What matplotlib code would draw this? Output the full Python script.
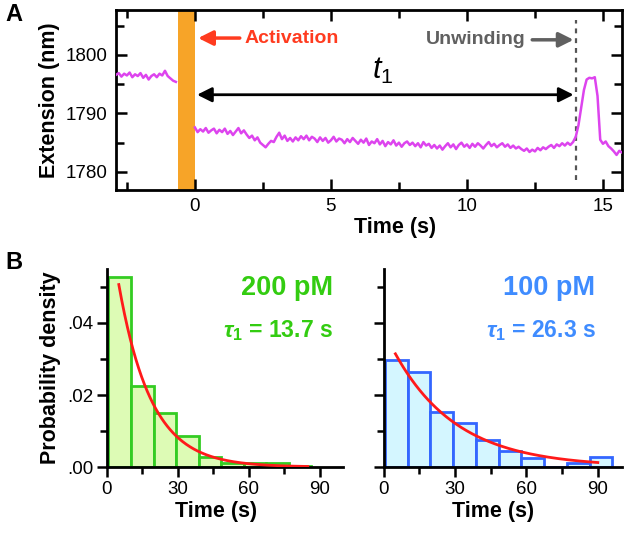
import numpy as np
import matplotlib
matplotlib.use("Agg")
import matplotlib.pyplot as plt
from matplotlib.ticker import MultipleLocator, FixedLocator

plt.rcParams['font.family'] = ['Liberation Sans', 'DejaVu Sans']
plt.rcParams['mathtext.fontset'] = 'custom'
plt.rcParams['mathtext.rm'] = 'Liberation Sans'
plt.rcParams['mathtext.it'] = 'Liberation Sans:italic'
plt.rcParams['mathtext.bf'] = 'Liberation Sans:bold'
plt.rcParams['mathtext.bfit'] = 'Liberation Sans:italic:bold'

# --- panel A: extension trace (sampled every 0.1 s) ---
pre_t0 = -2.9
pre_ext = [1796.6, 1796.9, 1796.3, 1796.8, 1796.5, 1797.0, 1796.2, 1796.7, 1796.4, 1796.9,
           1796.1, 1796.6, 1795.8, 1796.4, 1796.7, 1796.2, 1796.8, 1796.5, 1797.3, 1796.4,
           1796.0, 1795.6, 1795.4]
post_t0 = 0.0
post_ext = [1787.6, 1786.8, 1787.3, 1786.9, 1787.5, 1786.7, 1787.1, 1787.4, 1786.6, 1787.2,
            1786.8, 1787.4, 1786.5, 1787.0, 1786.3, 1786.9, 1787.5, 1786.6, 1787.1, 1786.4,
            1785.8, 1786.2, 1785.4, 1785.9, 1785.0, 1784.6, 1784.2, 1784.8, 1785.3, 1785.1,
            1786.0, 1786.7, 1785.6, 1786.2, 1785.3, 1785.8, 1785.2, 1785.9, 1785.4, 1786.1,
            1785.6, 1786.2, 1785.4, 1786.0, 1785.7, 1785.1, 1785.9, 1785.3, 1785.8, 1785.0,
            1785.4, 1786.0, 1785.2, 1785.7, 1785.5, 1784.9, 1785.6, 1785.1, 1785.8, 1785.3,
            1784.8, 1785.5, 1785.0, 1785.7, 1784.6, 1785.2, 1784.9, 1785.6, 1784.7, 1785.3,
            1784.4, 1785.1, 1784.7, 1785.4, 1784.5, 1785.0, 1784.3, 1784.9, 1785.2, 1784.6,
            1785.0, 1784.4, 1784.9, 1784.2, 1785.1, 1784.5, 1784.8, 1784.1, 1784.6, 1784.0,
            1784.5, 1783.8, 1784.4, 1784.9, 1784.2, 1784.7, 1783.9, 1784.6, 1785.0, 1784.3,
            1784.7, 1784.1, 1784.8, 1784.3, 1784.9, 1784.5, 1784.0, 1784.6, 1785.1, 1784.4,
            1784.8, 1784.2, 1784.6, 1784.9, 1784.3, 1784.7, 1784.1, 1784.5, 1784.0, 1784.3,
            1783.9, 1783.6, 1784.0, 1783.4, 1783.8, 1783.5, 1784.1, 1783.7, 1784.2, 1783.9,
            1784.3, 1784.6, 1784.1, 1784.7, 1784.4, 1784.9, 1784.5, 1785.0, 1784.6, 1785.1,
            1786.0, 1788.0, 1791.0, 1794.0, 1795.8, 1796.1, 1796.0, 1796.2, 1793.0, 1785.5,
            1784.8, 1785.2, 1784.4, 1784.0, 1783.5, 1782.9, 1783.6, 1783.3]
dt = 0.1
activation = (-0.62, 0.0)
unwinding_t = 14.0

# --- panel B: dwell-time histograms ---
bin_w = 9.55
bins_200 = [0.6, 10.15, 19.7, 29.25, 38.8, 48.35, 57.9, 67.45, 77.0]
dens_200 = [0.0528, 0.0226, 0.0150, 0.0087, 0.0028, 0.0011, 0.0011, 0.0011, 0.0003]
tau_200 = 13.7
bins_100 = [0.6, 10.15, 19.7, 29.25, 38.8, 48.35, 57.9, 67.45, 77.0, 86.55]
dens_100 = [0.0296, 0.0264, 0.0153, 0.0122, 0.0074, 0.0044, 0.0025, 0.0, 0.0011, 0.0027]
tau_100 = 26.3

fig = plt.figure(figsize=(6.25, 5.35), dpi=100)

# ---------------- A ----------------
axA = fig.add_axes([0.1856, 0.6449, 0.8096, 0.3364])
t_pre = pre_t0 + dt * np.arange(len(pre_ext))
t_post = post_t0 + dt * np.arange(len(post_ext))
axA.axvspan(activation[0], activation[1], color='#F7A428', lw=0, zorder=1)
axA.plot(t_pre, pre_ext, color='#DD44EE', lw=1.8, zorder=3)
axA.plot(t_post, post_ext, color='#DD44EE', lw=1.8, zorder=3)
axA.plot([unwinding_t, unwinding_t], [1778.6, 1806.0], color='#555555', lw=1.6,
         ls=(0, (2.2, 2.2)), zorder=2)
axA.set_xlim(-2.9, 15.7)
axA.set_ylim(1776.9, 1807.7)
axA.xaxis.set_major_locator(MultipleLocator(5))
axA.xaxis.set_minor_locator(MultipleLocator(2.5))
axA.yaxis.set_major_locator(MultipleLocator(10))
axA.yaxis.set_minor_locator(MultipleLocator(5))
axA.tick_params(which='both', direction='in', top=True, right=True, width=1.8,
                labelsize=13.5, pad=6)
axA.tick_params(which='major', length=8)
axA.tick_params(which='minor', length=6)
for s in axA.spines.values():
    s.set_linewidth(2)
axA.set_xlabel('Time (s)', fontsize=15.5, fontweight='bold', labelpad=1)
axA.xaxis.set_label_coords(0.551, -0.15)
axA.set_ylabel('Extension (nm)', fontsize=15.5, fontweight='bold', labelpad=4)

axA.annotate('', xy=(0.08, 1793.2), xytext=(13.92, 1793.2),
             arrowprops=dict(arrowstyle='<|-|>', color='black', lw=2, mutation_scale=22,
                             shrinkA=0, shrinkB=0))
axA.text(6.9, 1797.3, '$t_1$', fontsize=22, ha='center', va='center')
axA.annotate('', xy=(0.12, 1802.9), xytext=(1.65, 1802.9),
             arrowprops=dict(arrowstyle='-|>', color='#FF3B1F', lw=2.5, mutation_scale=22,
                             shrinkA=0, shrinkB=0))
axA.text(1.82, 1802.9, 'Activation', color='#FF3B1F', fontsize=14, fontweight='bold',
         ha='left', va='center')
axA.annotate('', xy=(13.92, 1802.6), xytext=(12.4, 1802.6),
             arrowprops=dict(arrowstyle='-|>', color='#606060', lw=2.5, mutation_scale=22,
                             shrinkA=0, shrinkB=0))
axA.text(12.15, 1802.6, 'Unwinding', color='#606060', fontsize=14, fontweight='bold',
         ha='right', va='center')

# ---------------- B ----------------
def hist_panel(rect, starts, dens, tau, t_end, face, edge, txt_col, conc, txt_x, labels):
    ax = fig.add_axes(rect)
    ax.bar(starts, dens, width=bin_w, align='edge', color=face, edgecolor=edge,
           linewidth=2, zorder=2)
    tt = np.linspace(5, t_end, 200)
    ax.plot(tt, np.exp(-tt / tau) / tau, color='#FF1A1A', lw=2, zorder=3)
    ax.set_xlim(0, 100)
    ax.set_ylim(0, 0.055)
    ax.spines['top'].set_visible(False)
    ax.spines['right'].set_visible(False)
    for s in ('left', 'bottom'):
        ax.spines[s].set_linewidth(2)
    ax.xaxis.set_major_locator(FixedLocator([0, 30, 60, 90]))
    ax.xaxis.set_minor_locator(FixedLocator([15, 45, 75]))
    ax.yaxis.set_major_locator(FixedLocator([0, 0.02, 0.04]))
    ax.yaxis.set_minor_locator(FixedLocator([0.01, 0.03, 0.05]))
    ax.tick_params(which='both', direction='out', width=1.8, labelsize=13.5, pad=3)
    ax.tick_params(which='major', length=7)
    ax.tick_params(which='minor', length=5)
    if labels:
        ax.set_yticklabels(['.00', '.02', '.04'])
        ax.set_ylabel('Probability density', fontsize=15.5, fontweight='bold', labelpad=4)
    else:
        ax.set_yticklabels([])
    ax.set_xlabel('Time (s)', fontsize=15.5, fontweight='bold', labelpad=1)
    ax.xaxis.set_label_coords(0.46, -0.17)
    ax.text(txt_x, 0.905, conc, transform=ax.transAxes, color=txt_col, fontsize=19.5,
            fontweight='bold', ha='right', va='center')
    ax.text(txt_x, 0.69, r'$\mathbfit{\tau}_\mathbf{1}$ = %.1f s' % tau, transform=ax.transAxes,
            color=txt_col, fontsize=16.5, fontweight='bold', ha='right', va='center')
    return ax

hist_panel([0.1712, 0.1271, 0.378, 0.3701], bins_200, dens_200, tau_200, 85,
           '#DDFBB5', '#33CC22', '#33CC11', '200 pM', 0.957, True)
hist_panel([0.6136, 0.1271, 0.381, 0.3701], bins_100, dens_100, tau_100, 90,
           '#D4F6FF', '#3366FF', '#3F8CFF', '100 pM', 0.89, False)

fig.text(0.008, 0.972, 'A', fontsize=17, fontweight='bold', va='center')
fig.text(0.008, 0.51, 'B', fontsize=17, fontweight='bold', va='center')

fig.savefig('out.png', dpi=100)
